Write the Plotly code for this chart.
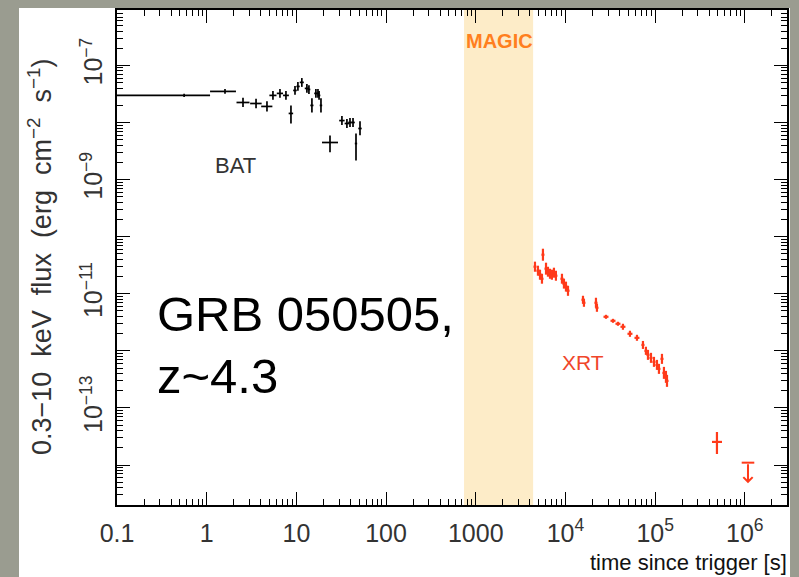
import math
import plotly.graph_objects as go

# ---------------- data ----------------
# BAT (black crosses)
bat_t = [0.56, 1.60, 2.54, 3.55, 4.70, 5.48, 6.56, 7.65, 8.70, 9.65, 10.4, 11.5, 13.1,
         13.8, 14.9, 16.5, 17.4, 17.9, 18.8, 23.7, 32.2, 36.6, 39.6, 42.8, 46.2, 51.2]
bat_t_lo = [0.10, 1.09, 2.15, 3.05, 4.05, 5.00, 6.05, 7.10, 8.20, 9.20, 10.0, 10.9, 12.4,
            13.3, 14.3, 15.8, 16.8, 17.3, 18.2, 19.3, 30.0, 34.5, 37.8, 41.0, 44.8, 49.0]
bat_t_hi = [1.09, 2.12, 3.00, 4.10, 5.40, 6.00, 7.10, 8.25, 9.20, 10.1, 10.9, 12.1, 13.8,
            14.3, 15.5, 17.2, 18.0, 18.5, 19.4, 29.1, 34.5, 38.8, 41.5, 44.8, 47.6, 53.5]
bat_f = [2.98e-8, 3.5e-8, 2.24e-8, 2.15e-8, 1.91e-8, 2.98e-8, 3.23e-8, 2.98e-8, 1.44e-8,
         3.64e-8, 4.28e-8, 5.04e-8, 3.95e-8, 3.79e-8, 1.99e-8, 3.23e-8, 3.23e-8, 2.98e-8,
         1.99e-8, 4.46e-9, 1.08e-8, 9.6e-9, 1.0e-8, 1.0e-8, 4.28e-9, 7.85e-9]
bat_f_lo = [2.8e-8, 3.2e-8, 1.86e-8, 1.78e-8, 1.56e-8, 2.5e-8, 2.7e-8, 2.5e-8, 9.6e-9,
            3.05e-8, 3.6e-8, 4.2e-8, 3.3e-8, 3.15e-8, 1.5e-8, 2.7e-8, 2.7e-8, 2.5e-8,
            1.5e-8, 3.0e-9, 9.0e-9, 8.0e-9, 8.3e-9, 8.3e-9, 2.15e-9, 6.0e-9]
bat_f_hi = [3.2e-8, 3.85e-8, 2.7e-8, 2.6e-8, 2.35e-8, 3.55e-8, 3.85e-8, 3.55e-8, 1.99e-8,
            4.35e-8, 5.1e-8, 6.0e-8, 4.7e-8, 4.5e-8, 2.65e-8, 3.85e-8, 3.85e-8, 3.55e-8,
            2.65e-8, 5.9e-9, 1.3e-8, 1.15e-8, 1.2e-8, 1.2e-8, 6.4e-9, 1.05e-8]

# XRT (red crosses)
xrt_t = [4570, 4935, 5200, 5470, 5610, 6070, 6380, 6720, 7060, 7440, 7830, 9140, 9620,
         10130, 10670, 15680, 16070, 21880, 22440, 28300, 33880, 38480, 43750, 52360,
         62680, 73110, 78890, 83130, 89810, 97020, 104700, 110200, 119100, 125300,
         131900, 135500, 488700]
xrt_t_lo = [4400, 4750, 5000, 5260, 5400, 5840, 6140, 6460, 6790, 7160, 7530, 8790, 9250,
            9740, 10260, 15080, 15460, 21050, 21590, 26550, 31780, 36100, 41040, 49120,
            58800, 70330, 75890, 79970, 86400, 93330, 100700, 106000, 114600, 120500,
            126900, 130300, 430000]
xrt_t_hi = [4750, 5130, 5410, 5690, 5830, 6310, 6640, 6990, 7340, 7740, 8140, 9510, 10000,
            10540, 11100, 16310, 16710, 22760, 23340, 30170, 36120, 41020, 46640, 55820,
            66820, 76030, 82050, 86460, 93400, 100900, 108900, 114600, 123900, 130300,
            137200, 140900, 556000]
xrt_f = [2.98e-11, 2.53e-11, 2.16e-11, 1.83e-11, 4.83e-11, 2.75e-11, 2.43e-11, 2.24e-11,
         2.16e-11, 2.34e-11, 2.07e-11, 1.83e-11, 1.50e-11, 1.33e-11, 1.13e-11, 7.85e-12,
         6.95e-12, 6.95e-12, 5.68e-12, 3.95e-12, 3.36e-12, 2.98e-12, 2.64e-12, 1.99e-12,
         1.69e-12, 1.27e-12, 1.0e-12, 8.51e-13, 7.54e-13, 6.41e-13, 5.68e-13, 4.83e-13,
         7.24e-13, 4.11e-13, 3.50e-13, 2.98e-13, 2.54e-14]
xrt_f_lo = [2.43e-11, 2.07e-11, 1.76e-11, 1.50e-11, 3.79e-11, 2.16e-11, 1.99e-11, 1.83e-11,
            1.76e-11, 1.91e-11, 1.69e-11, 1.50e-11, 1.23e-11, 1.09e-11, 9.2e-12, 6.68e-12,
            5.91e-12, 5.68e-12, 4.83e-12, 3.64e-12, 3.10e-12, 2.75e-12, 2.34e-12, 1.76e-12,
            1.50e-12, 1.08e-12, 8.5e-13, 6.95e-13, 6.16e-13, 5.24e-13, 4.64e-13, 3.95e-13,
            5.91e-13, 3.23e-13, 2.75e-13, 2.34e-13, 1.56e-14]
xrt_f_hi = [3.65e-11, 3.10e-11, 2.64e-11, 2.24e-11, 6.15e-11, 3.50e-11, 2.97e-11, 2.74e-11,
            2.64e-11, 2.86e-11, 2.53e-11, 2.24e-11, 1.84e-11, 1.63e-11, 1.38e-11, 9.22e-12,
            8.17e-12, 8.51e-12, 6.67e-12, 4.28e-12, 3.64e-12, 3.23e-12, 2.98e-12, 2.25e-12,
            1.91e-12, 1.49e-12, 1.18e-12, 1.04e-12, 9.23e-13, 7.85e-13, 6.95e-13, 5.91e-13,
            8.86e-13, 5.24e-13, 4.46e-13, 3.80e-13, 3.79e-14]

# XRT upper limit
ul_t = 1.084e6
ul_f = 1.1e-14
ul_tip = 4.8e-15

# MAGIC observation window [s]
magic_window = [740, 4360]

# axis ticks
x_tickvals = [0.1, 1, 10, 100, 1000, 1e4, 1e5, 1e6]
x_ticktext = ["0.1", "1", "10", "100", "1000", "10<sup>4</sup>", "10<sup>5</sup>", "10<sup>6</sup>"]
y_exponents = [-14, -13, -12, -11, -10, -9, -8, -7, -6]
y_labelled = [-13, -11, -9, -7]

# ---------------- figure ----------------
W, H = 799, 577
ML, MR, MT, MB = 117, 12, 8, 72
PW, PH = W - ML - MR, H - MT - MB


def px(xp):
    return (xp - ML) / PW


def py(yp):
    return (H - MB - yp) / PH


BLACK = "#000000"
RED = "#ff3a1a"
FONT = "Liberation Sans, Arial, sans-serif"

fig = go.Figure()

fig.add_trace(go.Scatter(
    x=bat_t, y=bat_f, mode="markers",
    marker=dict(size=1, color=BLACK),
    error_x=dict(type="data", symmetric=False,
                 array=[h - t for h, t in zip(bat_t_hi, bat_t)],
                 arrayminus=[t - l for l, t in zip(bat_t_lo, bat_t)],
                 color=BLACK, thickness=1.7, width=0),
    error_y=dict(type="data", symmetric=False,
                 array=[h - f for h, f in zip(bat_f_hi, bat_f)],
                 arrayminus=[f - l for l, f in zip(bat_f_lo, bat_f)],
                 color=BLACK, thickness=1.7, width=0),
    showlegend=False, hoverinfo="skip"))

fig.add_trace(go.Scatter(
    x=xrt_t, y=xrt_f, mode="markers",
    marker=dict(size=1, color=RED),
    error_x=dict(type="data", symmetric=False,
                 array=[h - t for h, t in zip(xrt_t_hi, xrt_t)],
                 arrayminus=[t - l for l, t in zip(xrt_t_lo, xrt_t)],
                 color=RED, thickness=2.2, width=0),
    error_y=dict(type="data", symmetric=False,
                 array=[h - f for h, f in zip(xrt_f_hi, xrt_f)],
                 arrayminus=[f - l for l, f in zip(xrt_f_lo, xrt_f)],
                 color=RED, thickness=2.2, width=0),
    showlegend=False, hoverinfo="skip"))

# upper limit bar
fig.add_trace(go.Scatter(
    x=[ul_t], y=[ul_f], mode="markers",
    marker=dict(symbol="line-ew", size=9, line=dict(color=RED, width=2)),
    showlegend=False, hoverinfo="skip"))

fig.add_annotation(x=math.log10(ul_t), y=math.log10(ul_tip), xref="x", yref="y",
                   ax=math.log10(ul_t), ay=math.log10(ul_f), axref="x", ayref="y",
                   showarrow=True, arrowhead=4, arrowsize=0.9, arrowwidth=2,
                   arrowcolor=RED, text="")

# white panel on grey stone background (drawn first, below everything)
fig.add_shape(type="rect", xref="paper", yref="paper",
              x0=px(19), x1=px(790), y0=py(H + 20), y1=py(6),
              fillcolor="white", line_width=0, layer="below")

# MAGIC band
fig.add_vrect(x0=magic_window[0], x1=magic_window[1], fillcolor="#fdecc8",
              opacity=1, line_width=0, layer="below")

minor_x = [m * 10 ** e for e in range(-1, 7) for m in range(2, 10)]
minor_y = [m * 10.0 ** e for e in range(-15, -5) for m in range(2, 10)]

fig.update_xaxes(
    type="log", range=[-1, 6.47],
    tickmode="array", tickvals=x_tickvals, ticktext=x_ticktext,
    ticks="inside", ticklen=13, tickwidth=1.3, tickcolor=BLACK,
    showline=True, linecolor=BLACK, linewidth=1.6, mirror="ticks",
    showgrid=False, zeroline=False,
    tickfont=dict(family=FONT, size=25, color="#333333"),
    ticklabelstandoff=5,
    minor=dict(tickmode="array", tickvals=minor_x, ticks="inside", ticklen=6,
               tickwidth=1, tickcolor=BLACK, showgrid=False),
)
fig.update_yaxes(
    type="log", range=[-14.7, -6.03],
    tickmode="array", tickvals=[10.0 ** e for e in y_exponents],
    ticktext=[("10<sup>\u2212%d</sup>" % (-e)) if e in y_labelled else "" for e in y_exponents],
    tickangle=-90,
    ticks="inside", ticklen=13, tickwidth=1.3, tickcolor=BLACK,
    showline=True, linecolor=BLACK, linewidth=1.6, mirror="ticks",
    showgrid=False, zeroline=False,
    tickfont=dict(family=FONT, size=25, color="#333333"),
    ticklabelstandoff=3,
    minor=dict(tickmode="array", tickvals=minor_y, ticks="inside", ticklen=6,
               tickwidth=1, tickcolor=BLACK, showgrid=False),
)

# texts
SP = "\u00a0 "
fig.add_annotation(xref="paper", yref="paper", x=px(40), y=py(256),
                   text=("0.3\u221210" + SP + "keV" + SP + "flux" + SP + "(erg" + SP +
                         "cm<sup>\u22122</sup>" + SP + "s<sup>\u22121</sup>)"),
                   textangle=-90, showarrow=False, xanchor="center", yanchor="middle",
                   font=dict(family=FONT, size=27, color="#333333"))
fig.add_annotation(xref="paper", yref="paper", x=px(789), y=py(563),
                   text="time since trigger [s]", showarrow=False,
                   xanchor="right", yanchor="middle",
                   font=dict(family=FONT, size=22, color="#111111"))
fig.add_annotation(xref="paper", yref="paper", x=px(235), y=py(164), text="BAT",
                   showarrow=False, xanchor="center", yanchor="middle",
                   font=dict(family=FONT, size=22, color="#333333"))
fig.add_annotation(xref="paper", yref="paper", x=px(583), y=py(362), text="XRT",
                   showarrow=False, xanchor="center", yanchor="middle",
                   font=dict(family=FONT, size=21, color="#f0462a"))
fig.add_annotation(xref="paper", yref="paper", x=px(499), y=py(39), text="<b>MAGIC</b>",
                   showarrow=False, xanchor="center", yanchor="middle",
                   font=dict(family=FONT, size=20, color="#ff7f1e"))
fig.add_annotation(xref="paper", yref="paper", x=px(155), y=py(313), text="GRB 050505,",
                   showarrow=False, xanchor="left", yanchor="middle",
                   font=dict(family=FONT, size=49, color="#000000"))
fig.add_annotation(xref="paper", yref="paper", x=px(155), y=py(375), text="z~4.3",
                   showarrow=False, xanchor="left", yanchor="middle",
                   font=dict(family=FONT, size=49, color="#000000"))

fig.update_layout(
    width=W, height=H,
    margin=dict(l=ML, r=MR, t=MT, b=MB, pad=0),
    paper_bgcolor="#9a9c90", plot_bgcolor="rgba(0,0,0,0)",
    showlegend=False,
)

fig.write_html("out.html")
